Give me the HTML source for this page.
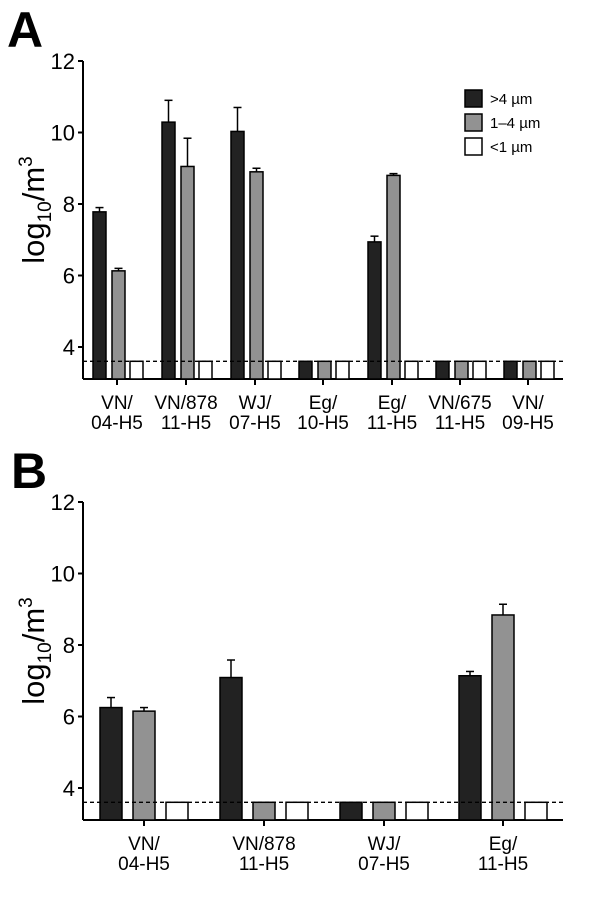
<!DOCTYPE html>
<html><head><meta charset="utf-8"><style>
body{margin:0;background:#fff;}
svg{display:block;font-family:"Liberation Sans",sans-serif;}
</style></head><body>
<svg id="s" width="600" height="914" xmlns="http://www.w3.org/2000/svg"></svg>
<script>
const s=document.getElementById('s');
let h='';
const C={b:'#222',g:'#929292',w:'#fff'};
function panel(off,letter,ax0,ax1,groups,bw,offs,labels,letterX){
  const Y=v=>off+61+(12-v)*35.75;
  const bottom=off+379;
  h+=`<text x="${letterX}" y="${off+47}" font-size="50" font-weight="bold" fill="#000">${letter}</text>`;
  h+=`<line x1="${ax0}" y1="${Y(12)}" x2="${ax0}" y2="${bottom}" stroke="#000" stroke-width="2"/>`;
  h+=`<line x1="${ax0}" y1="${bottom}" x2="${ax1}" y2="${bottom}" stroke="#000" stroke-width="2"/>`;
  [12,10,8,6,4].forEach(v=>{
    h+=`<line x1="${ax0-5}" y1="${Y(v)}" x2="${ax0}" y2="${Y(v)}" stroke="#000" stroke-width="2"/>`;
    h+=`<text x="${ax0-8}" y="${Y(v)+8}" font-size="22" text-anchor="end">${v}</text>`;
  });
  h+=`<text transform="translate(44,${off+210}) rotate(-90)" font-size="31" text-anchor="middle">log<tspan font-size="19" dy="7">10</tspan><tspan dy="-7">/m</tspan><tspan font-size="19" dy="-12">3</tspan></text>`;
  groups.forEach((g,i)=>{
    const cx=g.x;
    h+=`<line x1="${cx}" y1="${bottom}" x2="${cx}" y2="${bottom+6}" stroke="#000" stroke-width="2"/>`;
    g.v.forEach((b,j)=>{
      const [val,err]=b; const x=cx+offs[j]; const top=Y(val);
      if(err){h+=`<line x1="${x+bw/2}" y1="${Y(err)}" x2="${x+bw/2}" y2="${top}" stroke="#000" stroke-width="1.5"/><line x1="${x+bw/2-4}" y1="${Y(err)}" x2="${x+bw/2+4}" y2="${Y(err)}" stroke="#000" stroke-width="1.5"/>`;}
      h+=`<rect x="${x}" y="${top}" width="${bw}" height="${bottom-top}" fill="${[C.b,C.g,C.w][j]}" stroke="#000" stroke-width="1.5"/>`;
    });
    h+=`<text x="${cx}" y="${off+409}" font-size="19" text-anchor="middle">${labels[i][0]}</text>`;
    h+=`<text x="${cx}" y="${off+429}" font-size="19" text-anchor="middle">${labels[i][1]}</text>`;
  });
  h+=`<line x1="${ax0}" y1="${Y(3.6)}" x2="${ax1}" y2="${Y(3.6)}" stroke="#000" stroke-width="1.3" stroke-dasharray="4,3"/>`;
}
const L=3.6;
panel(0,'A',83,563,[
 {x:117,v:[[7.78,7.9],[6.13,6.2],[L]]},
 {x:186,v:[[10.29,10.9],[9.05,9.84],[L]]},
 {x:255,v:[[10.03,10.7],[8.9,9.0],[L]]},
 {x:323,v:[[L],[L],[L]]},
 {x:392,v:[[6.94,7.1],[8.8,8.85],[L]]},
 {x:460,v:[[L],[L],[L]]},
 {x:528,v:[[L],[L],[L]]}
],13,[-24,-5,13],[['VN/','04-H5'],['VN/878','11-H5'],['WJ/','07-H5'],['Eg/','10-H5'],['Eg/','11-H5'],['VN/675','11-H5'],['VN/','09-H5']],7);
panel(441,'B',83,563,[
 {x:144,v:[[6.25,6.53],[6.15,6.25],[L]]},
 {x:264,v:[[7.09,7.58],[L],[L]]},
 {x:384,v:[[L],[L],[L]]},
 {x:503,v:[[7.14,7.26],[8.84,9.14],[L]]}
],22,[-44,-11,22],[['VN/','04-H5'],['VN/878','11-H5'],['WJ/','07-H5'],['Eg/','11-H5']],11);
[['>4 µm',C.b,90],['1–4 µm',C.g,114],['<1 µm',C.w,138]].forEach(l=>{
 h+=`<rect x="465" y="${l[2]}" width="17" height="17" fill="${l[1]}" stroke="#000" stroke-width="1.5"/>`;
 h+=`<text x="490" y="${l[2]+14}" font-size="15">${l[0]}</text>`;
});
s.innerHTML=h;
</script>
</body></html>
